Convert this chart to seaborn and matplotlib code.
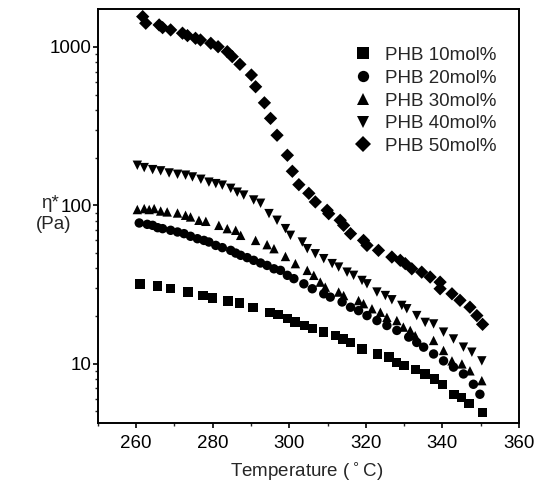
import pandas as pd
import matplotlib.pyplot as plt
import matplotlib.ticker as mticker
import seaborn as sns

# ---------------- datos ----------------
t_10 = [261, 265.5, 269, 273.5, 277.5, 280, 284, 287, 290.5, 295, 297, 299.5, 301.5, 304, 306,
        309, 312, 314, 316, 319, 323, 326, 328, 330, 333, 335.5, 338, 340, 343, 345, 347, 350.5]
eta_10 = [31.9, 31.0, 29.7, 28.3, 27.0, 26.0, 24.8, 24.1, 22.7, 21.1, 20.4, 19.2, 18.3, 17.4, 16.6,
          15.8, 15.0, 14.3, 13.6, 12.4, 11.5, 11.0, 10.2, 9.7, 9.2, 8.6, 8.0, 7.4, 6.4, 6.1, 5.6, 4.9]

t_20 = [260.8, 262.9, 264.3, 265.6, 266.9, 269, 270.8, 272.5, 274.2, 276, 277.7, 279, 280.8, 282.5,
        284.7, 286, 287.3, 289, 290.7, 292.5, 294.2, 296, 297.7, 299.5, 301.2, 303.8, 306, 309,
        310.7, 313.8, 316, 318.1, 320.3, 322.9, 325.5, 328.1, 331.2, 333.3, 335.1, 337.7, 340.3,
        342.9, 345.5, 348.1, 349.8]
eta_20 = [77.3, 75.8, 74.7, 72.2, 71.2, 69.5, 67.8, 66.2, 63.7, 61.5, 60.0, 58.6, 55.8, 54.0,
          51.9, 49.9, 48.3, 46.7, 44.9, 43.2, 41.7, 39.7, 38.8, 36.1, 34.4, 31.9, 29.7, 27.6,
          26.3, 24.5, 22.7, 21.6, 20.1, 18.7, 17.4, 16.2, 14.7, 13.6, 12.7, 11.5, 10.4,
          9.5, 8.6, 7.4, 6.4]

t_30 = [260.3, 262.1, 263.4, 264.7, 266.4, 268.1, 270.8, 272.9, 274.2, 276.4, 278.2, 281.6, 283.8,
        286, 287.3, 291.2, 294.2, 296, 299, 301.6, 304.7, 306.4, 308.1, 309.4, 312.9, 314.2, 318.1,
        319.4, 321.6, 323.8, 325.5, 328.1, 329.8, 331.6, 332.9, 337.7, 340.3, 342.5, 345.1, 347.2, 350.3]
eta_30 = [94.0, 95.3, 94.0, 95.3, 92.0, 90.8, 89.4, 86.5, 84.4, 80.4, 79.2, 74.7, 71.2,
          69.5, 64.6, 60.0, 56.4, 53.2, 47.5, 42.8, 38.8, 36.1, 32.7, 30.4, 28.3, 26.9, 25.0,
          23.9, 22.2, 21.1, 19.6, 18.7, 17.0, 16.2, 15.0, 14.0, 12.1, 10.4, 9.95, 9.0, 7.8]

t_40 = [260.3, 262.1, 264.3, 266.4, 268.6, 270.8, 272.9, 274.7, 276.9, 279, 280.8, 282.5, 284.7,
        286.4, 288.1, 290.7, 292.5, 294.7, 296.8, 299, 300.3, 303.4, 304.7, 306.8, 309, 311.2,
        312.9, 315.1, 316.8, 319, 320.3, 322.9, 325.1, 326.8, 329.4, 330.7, 333.3, 335.5, 337.7,
        340.3, 342.9, 345.5, 347.7, 350.3]
eta_40 = [179, 173, 168, 165, 160, 157, 155, 151, 146, 140, 137, 134, 128,
          121, 116, 108, 103, 88.6, 80.4, 71.2, 64.6, 58.6, 53.2, 49.4, 46.0, 42.8,
          40.7, 37.8, 36.1, 33.5, 31.9, 28.3, 26.9, 25.3, 23.3, 22.2, 20.1, 18.2, 17.8,
          15.8, 14.3, 12.7, 11.8, 10.4]

t_50 = [261.7, 262.5, 266, 266.9, 269, 272.1, 273.4, 275.5, 276.8, 279.5, 281.4, 283.8, 285.1,
        287.1, 290.1, 291.2, 293.5, 295.1, 296.8, 299.5, 300.8, 302.5, 305.1, 306.8, 309.9, 310.3,
        313.3, 314.2, 316, 319.4, 320.3, 323.3, 326.8, 329, 330.3, 332, 334.6, 336.8, 339.4,
        339.4, 342.5, 344.6, 347.2, 349, 350.5]
eta_50 = [1556, 1413, 1378, 1325, 1282, 1222, 1180, 1135, 1107, 1055, 1004, 934, 869,
          777, 665, 561, 444, 354, 277, 207, 164, 135, 119, 105, 93, 88.5,
          80.4, 74.7, 66.2, 60.0, 55.8, 51.9, 47.1, 44.9, 42.8, 39.7, 37.8, 35.2, 32.7,
          29.7, 27.6, 25.1, 22.7, 20.1, 17.7]

series = ["PHB 10mol%", "PHB 20mol%", "PHB 30mol%", "PHB 40mol%", "PHB 50mol%"]
marcadores = {"PHB 10mol%": "s", "PHB 20mol%": "o", "PHB 30mol%": "^",
              "PHB 40mol%": "v", "PHB 50mol%": "D"}

# tabla larga para seaborn
temps = [t_10, t_20, t_30, t_40, t_50]
etas = [eta_10, eta_20, eta_30, eta_40, eta_50]
frames = []
for nombre, t, e in zip(series, temps, etas):
    frames.append(pd.DataFrame({"T": t, "eta": e, "serie": nombre}))
df = pd.concat(frames, ignore_index=True)

# ---------------- grafico ----------------
sns.set_style("ticks")
plt.rcParams["font.family"] = ["Liberation Sans", "DejaVu Sans"]

fig = plt.figure(figsize=(5.35, 4.95), dpi=100)
ax = fig.add_axes([0.183, 0.145, 0.787, 0.837])

sns.scatterplot(data=df, x="T", y="eta", style="serie", style_order=series, markers=marcadores,
                color="black", s=46, linewidth=0, ax=ax, legend=True)

ax.set_yscale("log")
ax.set_xlim(250, 360)
ax.set_ylim(4.2, 1740)
ax.set_xticks([260, 280, 300, 320, 340, 360])
ax.xaxis.set_minor_locator(mticker.MultipleLocator(10))
ax.yaxis.set_major_locator(mticker.FixedLocator([10, 100, 1000]))
ax.yaxis.set_major_formatter(mticker.FuncFormatter(lambda v, p: f"{v:g}"))
ax.yaxis.set_minor_locator(mticker.LogLocator(base=10, subs=range(2, 10)))
ax.yaxis.set_minor_formatter(mticker.NullFormatter())

ax.tick_params(axis="both", which="major", direction="out", length=3.5, width=1.2,
               labelsize=13.5, colors="black")
ax.tick_params(axis="y", which="major", pad=1)
ax.tick_params(axis="x", which="major", pad=5)
ax.tick_params(axis="both", which="minor", direction="out", length=2.5, width=1.0)
for sp in ax.spines.values():
    sp.set_linewidth(1.4)
    sp.set_color("black")

ax.set_xlabel("")
ax.set_ylabel("")
fig.text(0.574, 0.048, r"Temperature (${}^\circ$C)", ha="center", va="center", fontsize=13.5)
fig.text(0.093, 0.588, "η*", ha="center", va="center", fontsize=13.5)
fig.text(0.100, 0.546, "(Pa)", ha="center", va="center", fontsize=13.5)

handles, labels = ax.get_legend_handles_labels()
ax.legend(handles, labels, loc="upper left", bbox_to_anchor=(0.575, 0.94), frameon=False,
          fontsize=13.5, handlelength=1.0, handletextpad=0.7, labelspacing=0.3,
          borderpad=0.2, markerscale=1.2)

plt.savefig("out.png", dpi=100)
